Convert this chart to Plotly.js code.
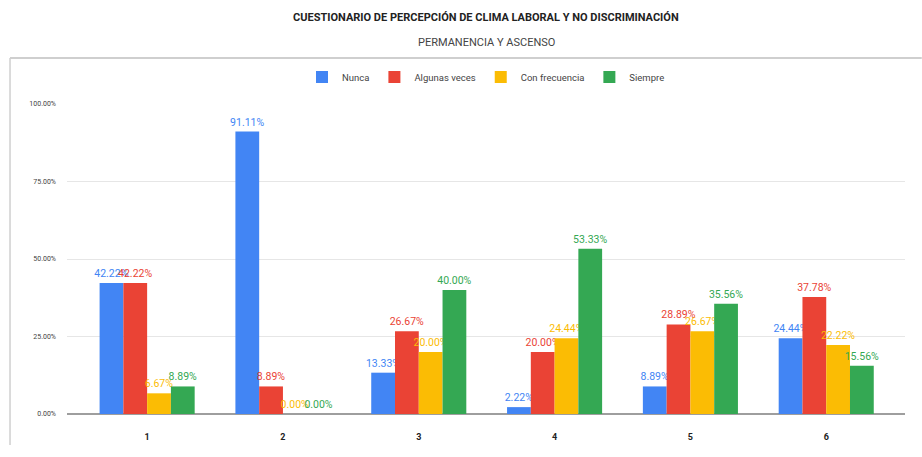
<!DOCTYPE html>
<html>
<head>
<meta charset="utf-8">
<script src="https://cdn.plot.ly/plotly-3.0.1.min.js"></script>
<style>html,body{margin:0;padding:0;background:#fff;}#chart{width:922px;height:457px;}</style>
</head>
<body>
<div id="chart"></div>
<script>
const categories = ["1", "2", "3", "4", "5", "6"];
const nunca = [42.22, 91.11, 13.33, 2.22, 8.89, 24.44];
const algunasVeces = [42.22, 8.89, 26.67, 20.00, 28.89, 37.78];
const conFrecuencia = [6.67, 0.00, 20.00, 24.44, 26.67, 22.22];
const siempre = [8.89, 0.00, 40.00, 53.33, 35.56, 15.56];
const seriesNames = ["Nunca", "Algunas veces", "Con frecuencia", "Siempre"];
const yTicks = [0, 25, 50, 75, 100];

const colors = ["#4285F4", "#EA4335", "#FBBC04", "#34A853"];
const allSeries = [nunca, algunasVeces, conFrecuencia, siempre];

const traces = allSeries.map((vals, i) => ({
  type: "bar",
  name: seriesNames[i],
  x: categories,
  y: vals,
  marker: {color: colors[i]},
  text: vals.map(v => v.toFixed(2) + "%"),
  textposition: "outside",
  constraintext: "none",
  textfont: {color: colors[i], size: 10.5, family: "Roboto, Arial, sans-serif"},
  cliponaxis: false,
  hoverinfo: "x+y+name"
}));

const layout = {
  width: 922,
  height: 457,
  margin: {l: 67, r: 17, t: 104, b: 43},
  paper_bgcolor: "#fff",
  plot_bgcolor: "#fff",
  font: {family: "Roboto, Arial, sans-serif", color: "#222"},
  barmode: "group",
  bargap: 0.3,
  bargroupgap: 0,
  showlegend: true,
  legend: {
    orientation: "h",
    x: 0.5, xanchor: "center",
    y: 1.087, yanchor: "middle",
    bgcolor: "rgba(0,0,0,0)",
    font: {size: 9.5, color: "#444"},
    itemwidth: 30,
    traceorder: "normal"
  },
  xaxis: {
    type: "category",
    range: [-0.59, 5.58],
    tickfont: {size: 9, color: "#222"},
    tickprefix: "<b>", ticksuffix: "</b>",
    showgrid: false,
    showline: false,
    ticks: "",
    ticklabelstandoff: 16,
    automargin: false
  },
  yaxis: {
    range: [0, 100],
    tickvals: yTicks,
    ticktext: yTicks.map(v => v.toFixed(2) + "%"),
    tickfont: {size: 7, color: "#444"},
    gridcolor: "#e6e6e6",
    gridwidth: 1,
    zeroline: true,
    zerolinecolor: "#9e9e9e",
    zerolinewidth: 2,
    showline: false,
    ticks: "",
    ticklabelstandoff: 10,
    automargin: false
  },
  annotations: [
    {text: "<b>CUESTIONARIO DE PERCEPCIÓN DE CLIMA LABORAL Y NO DISCRIMINACIÓN</b>",
     xref: "paper", yref: "paper", x: 0.5, y: 1.28, xanchor: "center", yanchor: "middle",
     showarrow: false, font: {size: 11, color: "#222", family: "Roboto, Arial, sans-serif"}},
    {text: "PERMANENCIA Y ASCENSO",
     xref: "paper", yref: "paper", x: 0.5, y: 1.2, xanchor: "center", yanchor: "middle",
     showarrow: false, font: {size: 11, color: "#444", family: "Roboto, Arial, sans-serif"}}
  ],
  shapes: [
    {type: "line", xref: "paper", yref: "paper", x0: -0.068, x1: 1.02, y0: 1.148, y1: 1.148,
     line: {color: "#cfcfcf", width: 2}},
    {type: "line", xref: "paper", yref: "paper", x0: -0.068, x1: -0.068, y0: 1.148, y1: -0.1,
     line: {color: "#cfcfcf", width: 1.5}}
  ]
};

Plotly.newPlot("chart", traces, layout, {displayModeBar: false, staticPlot: true});
</script>
</body>
</html>
